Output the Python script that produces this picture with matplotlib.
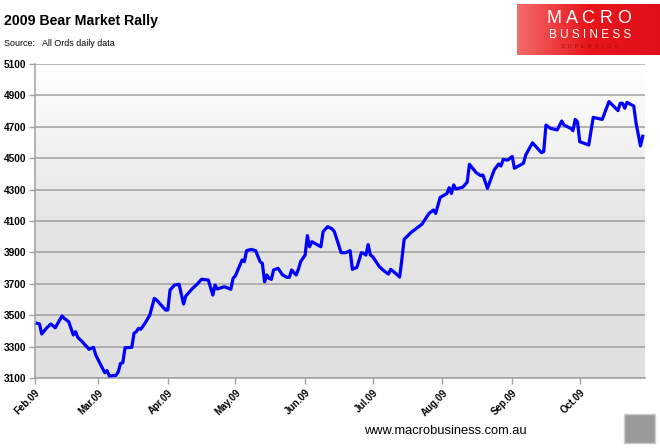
import numpy as np
import pandas as pd
import matplotlib
matplotlib.use("Agg")
import matplotlib.pyplot as plt
import matplotlib.dates as mdates
from matplotlib.patches import Rectangle

# =====================================================
# Data (All Ords)
# =====================================================

dates = [
    "2009-02-02", "2009-02-03", "2009-02-04", "2009-02-06", "2009-02-08",
    "2009-02-10", "2009-02-13", "2009-02-14", "2009-02-16", "2009-02-18",
    "2009-02-19", "2009-02-20", "2009-02-22", "2009-02-25", "2009-02-27",
    "2009-02-28", "2009-03-02", "2009-03-04", "2009-03-05", "2009-03-06",
    "2009-03-09", "2009-03-10", "2009-03-11", "2009-03-12", "2009-03-13",
    "2009-03-16", "2009-03-17", "2009-03-18", "2009-03-19", "2009-03-20",
    "2009-03-22", "2009-03-24", "2009-03-26", "2009-03-27", "2009-03-31",
    "2009-04-01", "2009-04-02", "2009-04-04", "2009-04-06", "2009-04-08",
    "2009-04-09", "2009-04-12", "2009-04-14", "2009-04-16", "2009-04-19",
    "2009-04-21", "2009-04-22", "2009-04-23", "2009-04-26", "2009-04-27",
    "2009-04-29", "2009-04-30", "2009-05-01", "2009-05-04", "2009-05-05",
    "2009-05-06", "2009-05-08", "2009-05-10", "2009-05-12", "2009-05-13",
    "2009-05-14", "2009-05-15", "2009-05-16", "2009-05-17", "2009-05-18",
    "2009-05-20", "2009-05-22", "2009-05-24", "2009-05-25", "2009-05-26",
    "2009-05-28", "2009-05-29", "2009-05-30", "2009-06-01", "2009-06-02",
    "2009-06-03", "2009-06-04", "2009-06-08", "2009-06-09", "2009-06-11",
    "2009-06-13", "2009-06-14", "2009-06-17", "2009-06-19", "2009-06-21",
    "2009-06-22", "2009-06-24", "2009-06-26", "2009-06-27", "2009-06-28",
    "2009-06-29", "2009-06-30", "2009-07-01", "2009-07-03", "2009-07-04",
    "2009-07-06", "2009-07-08", "2009-07-09", "2009-07-11", "2009-07-13",
    "2009-07-14", "2009-07-15", "2009-07-18", "2009-07-23", "2009-07-26",
    "2009-07-28", "2009-07-29", "2009-07-31", "2009-08-03", "2009-08-04",
    "2009-08-05", "2009-08-06", "2009-08-07", "2009-08-10", "2009-08-12",
    "2009-08-13", "2009-08-16", "2009-08-18", "2009-08-19", "2009-08-21",
    "2009-08-24", "2009-08-26", "2009-08-27", "2009-08-28", "2009-08-30",
    "2009-09-01", "2009-09-02", "2009-09-06", "2009-09-07", "2009-09-10",
    "2009-09-14", "2009-09-15", "2009-09-16", "2009-09-18", "2009-09-21",
    "2009-09-23", "2009-09-24", "2009-09-27", "2009-09-28", "2009-09-29",
    "2009-09-30", "2009-10-01", "2009-10-05", "2009-10-07", "2009-10-11",
    "2009-10-14", "2009-10-18", "2009-10-19", "2009-10-20", "2009-10-21",
    "2009-10-22", "2009-10-25", "2009-10-26", "2009-10-28", "2009-10-29",
]

all_ords = [
    3448, 3444, 3380, 3416, 3444,
    3420, 3495, 3480, 3458, 3374,
    3395, 3359, 3331, 3283, 3295,
    3246, 3189, 3134, 3147, 3113,
    3117, 3140, 3193, 3197, 3293,
    3295, 3385, 3395, 3416, 3410,
    3452, 3501, 3607, 3597, 3533,
    3533, 3661, 3692, 3697, 3571,
    3622, 3671, 3697, 3729, 3724,
    3628, 3692, 3667, 3681, 3677,
    3665, 3735, 3750, 3852, 3841,
    3911, 3919, 3911, 3841, 3830,
    3713, 3756, 3735, 3728, 3788,
    3799, 3756, 3741, 3741, 3788,
    3756, 3792, 3841, 3883, 4007,
    3936, 3968, 3936, 4032, 4064,
    4050, 4032, 3898, 3898, 3911,
    3792, 3805, 3898, 3894, 3883,
    3950, 3883, 3873, 3830, 3809,
    3783, 3762, 3792, 3769, 3743,
    3858, 3983, 4026, 4081, 4148,
    4170, 4148, 4250, 4275, 4312,
    4275, 4330, 4304, 4315, 4347,
    4461, 4408, 4389, 4393, 4308,
    4425, 4463, 4450, 4492, 4488,
    4511, 4436, 4468, 4520, 4598,
    4535, 4542, 4711, 4690, 4680,
    4737, 4711, 4690, 4675, 4747,
    4732, 4605, 4584, 4760, 4747,
    4861, 4803, 4850, 4850, 4818,
    4856, 4832, 4726, 4578, 4640,
]

y_ticks = list(range(3100, 5101, 200))

# =====================================================
# Figure
# =====================================================

FONT = ["Liberation Sans", "DejaVu Sans"]

fig = plt.figure(figsize=(6.6, 4.48), dpi=100)
fig.patch.set_facecolor("white")

ax = fig.add_axes([35 / 660, 1 - 378 / 448, 610 / 660, 314 / 448])

x = pd.to_datetime(dates)
x_min = pd.Timestamp("2009-02-01")
x_max = pd.Timestamp("2009-10-30")

# gradient background
grad = np.linspace(0, 1, 256).reshape(-1, 1)
ax.imshow(
    grad,
    extent=[mdates.date2num(x_min), mdates.date2num(x_max), 3100, 5100],
    aspect="auto",
    cmap=matplotlib.colors.LinearSegmentedColormap.from_list(
        "bg", ["#e0e0e0", "#e5e5e5", "#ffffff"]
    ),
    origin="lower",
    zorder=0,
)

for yv in y_ticks:
    ax.axhline(yv, color="#a0a0a0", linewidth=1.1, zorder=1)

ax.plot(x, all_ords, color="#0000ff", linewidth=2.3, zorder=3,
        solid_joinstyle="round")

ax.set_xlim(x_min, x_max)
ax.set_ylim(3100, 5100)

ax.set_yticks(y_ticks)
ax.xaxis.set_major_locator(mdates.MonthLocator())
ax.xaxis.set_major_formatter(mdates.DateFormatter("%b.%y"))

for side in ["top", "right"]:
    ax.spines[side].set_visible(False)
for side in ["left", "bottom"]:
    ax.spines[side].set_color("#a0a0a0")
    ax.spines[side].set_linewidth(1.1)

ax.tick_params(axis="both", colors="#a0a0a0", length=4, width=1,
               direction="out")
ax.tick_params(axis="y", labelcolor="black", pad=2)
ax.tick_params(axis="x", labelcolor="black", pad=3)

for lab in ax.get_yticklabels():
    lab.set_fontfamily(FONT)
    lab.set_fontweight("bold")
    lab.set_fontsize(7.3)

for lab in ax.get_xticklabels():
    lab.set_fontfamily(FONT)
    lab.set_fontweight("bold")
    lab.set_fontsize(7)
    lab.set_rotation(45)
    lab.set_ha("right")
    lab.set_rotation_mode("anchor")

# =====================================================
# Titles
# =====================================================

fig.text(4 / 660, 1 - 21 / 448, "2009 Bear Market Rally",
         fontsize=10.2, fontweight="bold", family=FONT, va="center")

fig.text(4 / 660, 1 - 43 / 448, "Source:   All Ords daily data",
         fontsize=6.4, family=FONT, va="center")

fig.text(364 / 660, 1 - 431 / 448, "www.macrobusiness.com.au",
         fontsize=9.3, family=FONT, va="center")

# =====================================================
# Logo
# =====================================================

logo = fig.add_axes([517 / 660, 1 - 55 / 448, 143 / 660, 51 / 448])
logo.set_xlim(0, 1)
logo.set_ylim(0, 1)
logo.axis("off")
red = np.linspace(0, 1, 64).reshape(1, -1)
logo.imshow(
    red,
    extent=[0, 1, 0, 1],
    aspect="auto",
    cmap=matplotlib.colors.LinearSegmentedColormap.from_list(
        "red", ["#f46a6a", "#e8151b", "#e0101a"]
    ),
)
logo.text(0.51, 0.72, "M A C R O", color="white", fontsize=13,
          ha="center", va="center", family=FONT)
logo.text(0.51, 0.40, "B U S I N E S S", color="white", fontsize=8.5,
          ha="center", va="center", family=FONT)
logo.text(0.51, 0.16, "S  U  P  E  R  B  L  O  G", color="#a00c10",
          fontsize=4, ha="center", va="center", family=FONT)

# wolf badge
fig.patches.append(Rectangle((624 / 660, 1 - 443 / 448), 31 / 660, 29 / 448,
                             transform=fig.transFigure, facecolor="#9a9a9a",
                             edgecolor="#cfcfcf", linewidth=1))

fig.savefig("out.png", dpi=100)
